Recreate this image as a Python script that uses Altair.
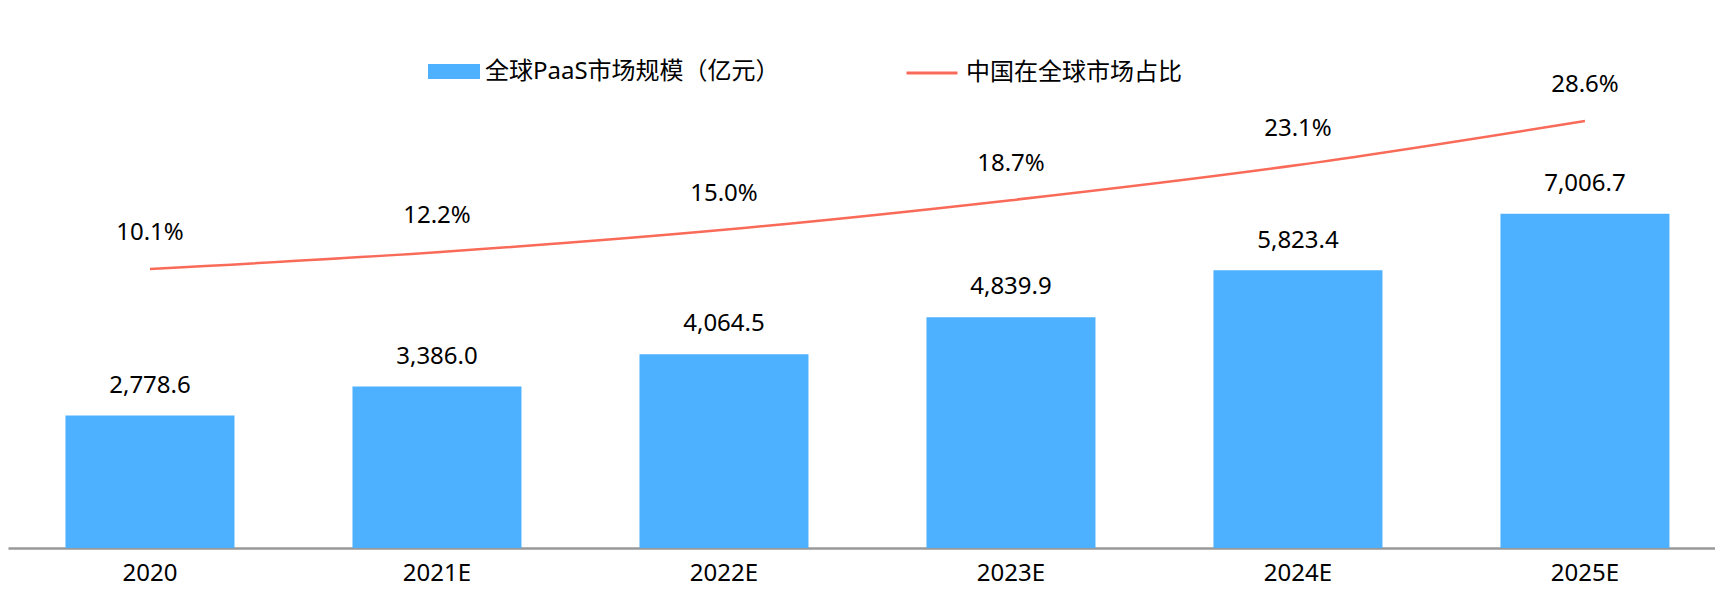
import altair as alt
import pandas as pd

years = ["2020", "2021E", "2022E", "2023E", "2024E", "2025E"]
market_size = [2778.6, 3386.0, 4064.5, 4839.9, 5823.4, 7006.7]
china_share = [0.101, 0.122, 0.150, 0.187, 0.231, 0.286]
bar_series = "全球PaaS市场规模（亿元）"
line_series = "中国在全球市场占比"

df = pd.DataFrame({
    "year": years,
    "size": market_size,
    "share": china_share,
    "s1": [bar_series] * len(years),
    "s2": [line_series] * len(years),
})

FONT = "Noto Sans, Noto Sans CJK SC"
BAR_COLOR = "#4DB1FF"
LINE_COLOR = "#F96A58"

x_enc = alt.X(
    "year:N",
    sort=years,
    title=None,
    scale=alt.Scale(paddingInner=0.411, paddingOuter=0.1794, align=0.558),
    axis=alt.Axis(
        labelAngle=0, labelFontSize=24, labelFont=FONT, labelColor="#000000",
        labelBaseline="alphabetic", labelPadding=32, ticks=False, tickSize=0,
        domainColor="#999999", domainWidth=2.5, grid=False,
    ),
)

y_bar = alt.Y("size:Q", scale=alt.Scale(domain=[0, 11321], nice=False, zero=True), axis=None)
y_line = alt.Y("share:Q", scale=alt.Scale(domain=[-0.24775, 0.42725], nice=False, zero=False), axis=None)

base = alt.Chart(df)

bars = base.mark_bar(size=169).encode(
    x=x_enc,
    y=y_bar,
    fill=alt.Fill(
        "s1:N",
        scale=alt.Scale(domain=[bar_series], range=[BAR_COLOR]),
        legend=alt.Legend(
            title=None, orient="none", legendX=420, legendY=37.5, padding=0,
            symbolType="M-1,-0.2885H1V0.2885H-1Z", symbolSize=2704,
            symbolStrokeWidth=0, labelFontSize=24, labelFont=FONT,
            labelColor="#000000", labelOffset=5, labelLimit=0,
        ),
    ),
)

bar_text = base.mark_text(
    fontSize=24, font=FONT, color="#000000", baseline="alphabetic", dy=-22.7
).encode(
    x=alt.X("year:N", sort=years),
    y=y_bar,
    text=alt.Text("size:Q", format=",.1f"),
)

line = base.mark_line(strokeWidth=2.5, interpolate="monotone").encode(
    x=alt.X("year:N", sort=years),
    y=y_line,
    stroke=alt.Stroke(
        "s2:N",
        scale=alt.Scale(domain=[line_series], range=[LINE_COLOR]),
        legend=alt.Legend(
            title=None, orient="none", legendX=897, legendY=38, padding=0,
            symbolType="stroke", symbolSize=2601, symbolStrokeWidth=3,
            labelFontSize=24, labelFont=FONT, labelColor="#000000",
            labelOffset=7, labelLimit=0,
        ),
    ),
)

line_text = base.mark_text(
    fontSize=24, font=FONT, color="#000000", baseline="alphabetic", dy=-29
).encode(
    x=alt.X("year:N", sort=years),
    y=y_line,
    text=alt.Text("share:Q", format=".1%"),
)

chart = alt.layer(
    alt.layer(bars, bar_text),
    alt.layer(line, line_text),
).resolve_scale(
    y="independent", fill="independent", stroke="independent"
).properties(
    width=1707,
    height=540,
    padding={"left": 0, "top": 0, "right": 0, "bottom": 40},
    autosize=alt.AutoSizeParams(type="none"),
).configure(
    background="#ffffff",
    view=alt.ViewConfig(stroke=None),
)

chart.save("out.html", embed_options={"renderer": "svg", "actions": False})
